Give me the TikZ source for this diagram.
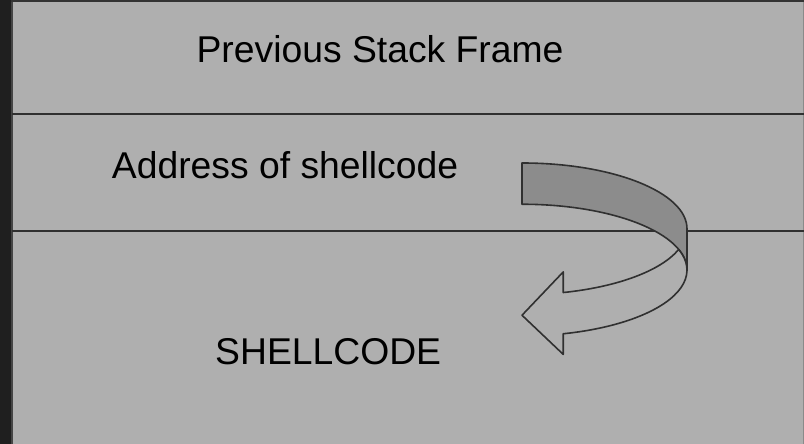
\documentclass[tikz,border=0pt]{standalone}
\usepackage{fontspec}
\setmainfont{Liberation Sans}
\definecolor{outerbg}{HTML}{1F1F1F}
\definecolor{topedge}{HTML}{333333}
\definecolor{sideedge}{HTML}{454545}
\definecolor{slidebg}{HTML}{AFAFAF}
\definecolor{rightedge}{HTML}{8A8A8A}
\definecolor{ink}{HTML}{303030}
\definecolor{bandback}{HTML}{8C8C8C}
\begin{document}
\begin{tikzpicture}[x=1pt,y=1pt,
  framelabel/.style={anchor=base west, inner sep=0pt, text=black,
    font=\fontsize{37.3}{44}\selectfont},
  divider/.style={draw=ink, line width=2.2pt},
  arrowpart/.style={draw=ink, line width=1.6pt, line join=round},
  ellarc/.style={x radius=165pt, y radius=65.81pt}]
\useasboundingbox (0,0) rectangle (804,444);
% window surround and slide area
\fill[outerbg] (0,0) rectangle (804,444);
\fill[slidebg] (12,0) rectangle (804,441.7);
\draw[topedge, line width=2.3pt] (11,442.85) -- (804,442.85);
\draw[sideedge, line width=2pt] (11.7,0) -- (11.7,441.7);
\draw[rightedge, line width=1pt] (803.5,0) -- (803.5,441.7);
% stack frame dividers
\coordinate (d1l) at (12,330.2);
\coordinate (d1r) at (804,330.2);
\coordinate (d2l) at (12,213.2);
\coordinate (d2r) at (804,213.2);
\draw[divider] (d1l) -- (d1r);
\draw[divider] (d2l) -- (d2r);
% labels
\node[framelabel] (prev) at (196.4,381.3) {Previous Stack Frame};
\node[framelabel] (addr) at (111.7,265.7) {Address of shellcode};
\node[framelabel] (code) at (215,79) {SHELLCODE};
% curved arrow: back band
\filldraw[arrowpart, fill=bandback]
  (687,173.94) arc[start angle=0, end angle=90, ellarc]
  -- (522,281) arc[start angle=90, end angle=0, ellarc] -- cycle;
% curved arrow: front band with head
\filldraw[arrowpart, fill=slidebg]
  (522,128.75) -- (563.25,172.1) -- (563.25,151.47)
  arc[start angle=-75.52, end angle=-18.27, ellarc]
  arc[start angle=18.26, end angle=-75.52, ellarc]
  -- (563.25,89.6) -- cycle;
\end{tikzpicture}
\end{document}
